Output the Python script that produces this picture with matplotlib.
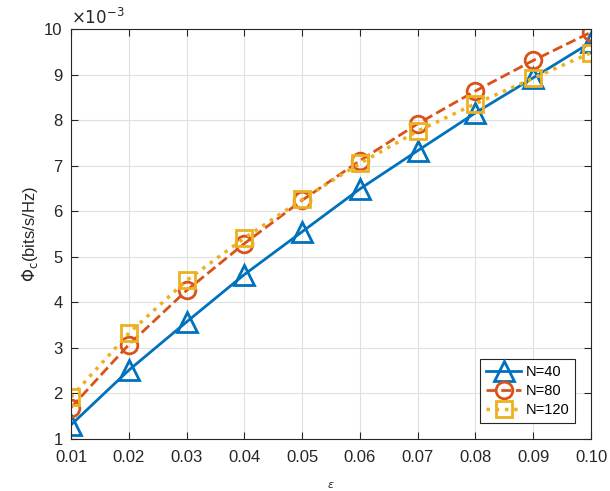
import matplotlib.pyplot as plt
import numpy as np

plt.rcParams['font.family'] = ['Liberation Sans', 'DejaVu Sans']

eps = [0.01, 0.02, 0.03, 0.04, 0.05, 0.06, 0.07, 0.08, 0.09, 0.10]
# values in units of 1e-3
n40 = [1.31, 2.51, 3.57, 4.61, 5.55, 6.49, 7.33, 8.16, 8.93, 9.71]
n80 = [1.69, 3.07, 4.26, 5.29, 6.24, 7.11, 7.92, 8.64, 9.31, 9.93]
n120 = [1.92, 3.32, 4.48, 5.41, 6.26, 7.05, 7.76, 8.36, 8.92, 9.48]
labels = ['N=40', 'N=80', 'N=120']
xticks = ['0.01', '0.02', '0.03', '0.04', '0.05', '0.06', '0.07', '0.08', '0.09', '0.10']

fig = plt.figure(figsize=(6.1, 4.91), dpi=100)
ax = fig.add_axes([0.1164, 0.1059, 0.8525, 0.835])

ax.plot(eps, n40, '-^', color='#0072BD', lw=2, ms=14, mfc='none', mew=2, label=labels[0])
ax.plot(eps, n80, '--o', color='#D95319', lw=2, ms=12, mfc='none', mew=2, label=labels[1])
ax.plot(eps, n120, ':s', color='#EDB120', lw=2.5, ms=11, mfc='none', mew=2, label=labels[2])

ax.set_xlim(0.01, 0.10)
ax.set_ylim(1, 10)
ax.set_xticks(eps)
ax.set_xticklabels(xticks)
ax.set_yticks(np.arange(1, 11))
ax.tick_params(direction='in', top=True, right=True, labelsize=12, colors='#262626', length=5)
ax.tick_params(axis='x', pad=8)
ax.tick_params(axis='y', pad=6)
ax.grid(True, color='#e0e0e0', lw=0.8)
ax.set_axisbelow(True)
for s in ax.spines.values():
    s.set_color('#262626')

ax.text(0.0, 1.004, r'$\times10^{-3}$', transform=ax.transAxes, fontsize=12, color='#262626',
        va='bottom', ha='left')
ax.set_ylabel(r'$\Phi_{\rm c}$(bits/s/Hz)', fontsize=12, color='#262626', labelpad=3)
ax.set_xlabel(r'$\epsilon$', fontsize=8, color='#262626', labelpad=11)

leg = ax.legend(loc='lower right', fontsize=10.5, fancybox=False, edgecolor='#262626',
                framealpha=1, borderaxespad=1.1, handlelength=2.4, handletextpad=0.3,
                labelspacing=0.35, borderpad=0.4)
leg.get_frame().set_linewidth(0.8)

fig.savefig('out.png', dpi=100)
